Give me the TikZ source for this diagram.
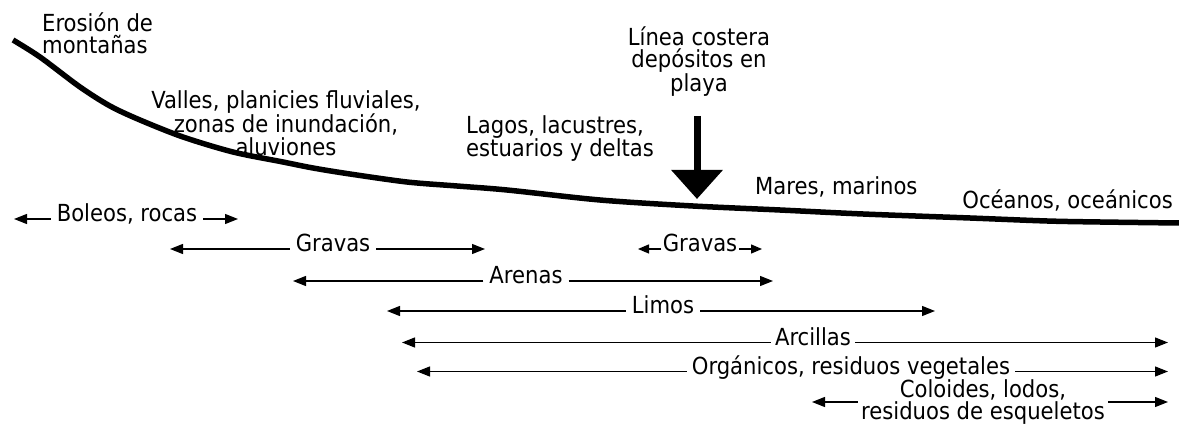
\documentclass[tikz,border=0pt]{standalone}
\usepackage{fontspec}
\setmainfont{DejaVu Sans Condensed}
\usetikzlibrary{arrows.meta}
\begin{document}
\begin{tikzpicture}[x=1pt,y=-1pt,
  every node/.style={font=\fontsize{23.5}{22.3}\selectfont, inner sep=0pt},
  rowlbl/.style={anchor=mid, inner xsep=6pt},
  arr/.style={-{Triangle[length=13pt,width=10pt]}, line width=1.3pt},
  sarr/.style={-{Triangle[length=11pt,width=9pt]}, line width=1.3pt},
  terrain/.style={line width=5.5pt, line join=round, line cap=butt}]
\useasboundingbox (0,0) rectangle (1179,430);

% terrain profile
\draw[terrain] plot[smooth, tension=0.5] coordinates {(13,40) (40,57) (80,87) (110,106) (140,120) (183,137) (233,152) (283,162) (313,168) (350,174) (407,182) (457,186) (507,190) (600,200) (693,206) (780,210) (863,214) (970,218) (1047,221) (1100,222) (1179,223)};

% landscape labels
\node[anchor=north west, align=left] (eros) at (42,12.2) {Erosión de\\montañas};
\node[anchor=north, align=center] (valles) at (286,90.1) {Valles, planicies fluviales,\\zonas de inundación,\\aluviones};
\node[anchor=north west, align=left] (lagos) at (466,115.1) {Lagos, lacustres,\\estuarios y deltas};
\node[anchor=north, align=center] (linea) at (699,26.2) {Línea costera\\depósitos en\\playa};
\node[anchor=base west] (mares) at (755,195) {Mares, marinos};
\node[anchor=base east] (oceanos) at (1173,209) {Océanos, oceánicos};

% coastline arrow
\coordinate (costaA) at (697,116);
\coordinate (costaB) at (697,199);
\draw[line width=7pt, -{Triangle[length=29pt,width=50pt]}] (costaA) -- (costaB);

% sediment ranges
\node[rowlbl] (bol) at (127,219) {Boleos, rocas};
\coordinate (bolL) at (14,219); \coordinate (bolR) at (238,219);
\draw[arr] (bol.mid west) -- (bolL); \draw[arr] (bol.mid east) -- (bolR);

\node[rowlbl] (grav) at (333,249) {Gravas};
\coordinate (gravL) at (170,249); \coordinate (gravR) at (485,249);
\draw[arr] (grav.mid west) -- (gravL); \draw[arr] (grav.mid east) -- (gravR);

\node[rowlbl, inner xsep=1.5pt] (gravb) at (700,249) {Gravas};
\coordinate (gravbL) at (638,249); \coordinate (gravbR) at (762,249);
\draw[sarr] (gravb.mid west) -- (gravbL); \draw[sarr] (gravb.mid east) -- (gravbR);

\node[rowlbl] (are) at (526,281) {Arenas};
\coordinate (areL) at (293,281); \coordinate (areR) at (773,281);
\draw[arr] (are.mid west) -- (areL); \draw[arr] (are.mid east) -- (areR);

\node[rowlbl] (lim) at (663,311) {Limos};
\coordinate (limL) at (387,311); \coordinate (limR) at (935,311);
\draw[arr] (lim.mid west) -- (limL); \draw[arr] (lim.mid east) -- (limR);

\node[rowlbl, inner xsep=4pt] (arc) at (813,342.5) {Arcillas};
\coordinate (arcL) at (402,342.5); \coordinate (arcR) at (1168,342.5);
\draw[arr] (arc.mid west) -- (arcL); \draw[arr] (arc.mid east) -- (arcR);

\node[rowlbl, inner xsep=5pt] (org) at (851,371.5) {Orgánicos, residuos vegetales};
\coordinate (orgL) at (417,371.5); \coordinate (orgR) at (1168,371.5);
\draw[arr] (org.mid west) -- (orgL); \draw[arr] (org.mid east) -- (orgR);

\node[anchor=north, align=center, inner xsep=3pt] (col) at (983,379.5) {Coloides, lodos,\\residuos de esqueletos};
\coordinate (colL) at (812,402); \coordinate (colR) at (1168,402);
\draw[arr] (col.west |- colL) -- (colL); \draw[arr] (col.east |- colR) -- (colR);
\end{tikzpicture}
\end{document}
